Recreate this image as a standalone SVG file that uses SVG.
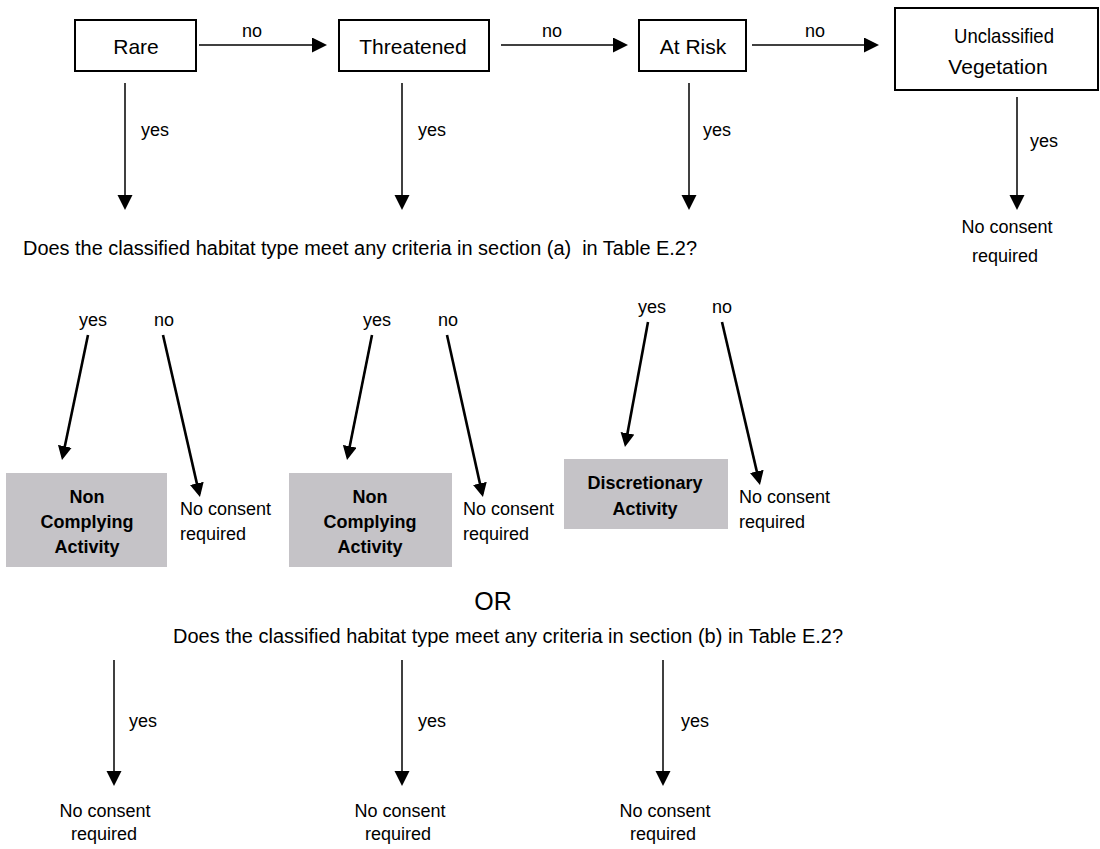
<svg xmlns="http://www.w3.org/2000/svg" width="1100" height="849" viewBox="0 0 1100 849">
<style>
  text { font-family: "Liberation Sans", Arial, sans-serif; fill: #000; }
  .box { fill: #fff; stroke: #000; stroke-width: 2; }
  .gbox { fill: #c5c3c7; stroke: none; }
  .t { font-size: 21px; }
  .q { font-size: 20px; white-space: pre; }
  .lbl { font-size: 18px; }
  .b { font-size: 18px; font-weight: bold; }
  .or { font-size: 25px; }
  .mid { text-anchor: middle; }
  .c1 { stroke: #000; stroke-width: 1.5; fill: none; marker-end: url(#ah); }
  .c2 { stroke: #000; stroke-width: 2.6; fill: none; marker-end: url(#ah2); }
</style>
<defs>
  <marker id="ah" markerUnits="userSpaceOnUse" markerWidth="16" markerHeight="16" refX="12" refY="7.5" orient="auto">
    <path d="M0,0 L15,7.5 L0,15 z" fill="#000"/>
  </marker>
  <marker id="ah2" markerUnits="userSpaceOnUse" markerWidth="16" markerHeight="16" refX="11" refY="7" orient="auto">
    <path d="M0,0 L14,7 L0,14 z" fill="#000"/>
  </marker>
</defs>
<rect width="1100" height="849" fill="#fff"/>

<g id="connectors">
  <line class="c1" x1="199" y1="45" x2="324" y2="45"/>
  <line class="c1" x1="501" y1="45" x2="625" y2="45"/>
  <line class="c1" x1="752" y1="45" x2="876" y2="45"/>
  <text class="lbl mid" x="252" y="37">no</text>
  <text class="lbl mid" x="552" y="37">no</text>
  <text class="lbl mid" x="815" y="37">no</text>

  <line class="c1" x1="125" y1="83" x2="125" y2="207"/>
  <line class="c1" x1="402" y1="83" x2="402" y2="207"/>
  <line class="c1" x1="689" y1="83" x2="689" y2="207"/>
  <line class="c1" x1="1017" y1="97" x2="1017" y2="207"/>
  <text class="lbl" x="141" y="136">yes</text>
  <text class="lbl" x="418" y="136">yes</text>
  <text class="lbl" x="703" y="136">yes</text>
  <text class="lbl" x="1030" y="147">yes</text>

  <line class="c2" x1="88" y1="335" x2="62.6" y2="457.1"/>
  <line class="c2" x1="163" y1="335" x2="199.3" y2="494.1"/>
  <line class="c2" x1="372" y1="335" x2="347.6" y2="457.1"/>
  <line class="c2" x1="447" y1="335" x2="482.3" y2="494.1"/>
  <line class="c2" x1="648" y1="322" x2="625.5" y2="444.1"/>
  <line class="c2" x1="722" y1="322" x2="759.3" y2="482.1"/>
  <text class="lbl mid" x="93" y="326">yes</text>
  <text class="lbl mid" x="164" y="326">no</text>
  <text class="lbl mid" x="377" y="326">yes</text>
  <text class="lbl mid" x="448" y="326">no</text>
  <text class="lbl mid" x="652" y="313">yes</text>
  <text class="lbl mid" x="722" y="313">no</text>

  <line class="c1" x1="114" y1="660" x2="114" y2="783"/>
  <line class="c1" x1="402" y1="660" x2="402" y2="783"/>
  <line class="c1" x1="663" y1="660" x2="663" y2="783"/>
  <text class="lbl" x="129" y="727">yes</text>
  <text class="lbl" x="418" y="727">yes</text>
  <text class="lbl" x="681" y="727">yes</text>
</g>

<g id="n-rare">
  <rect class="box" x="75" y="20" width="121" height="51"/>
  <text class="t mid" x="136" y="54">Rare</text>
</g>
<g id="n-threatened">
  <rect class="box" x="339" y="20" width="150" height="51"/>
  <text class="t mid" x="413" y="54">Threatened</text>
</g>
<g id="n-atrisk">
  <rect class="box" x="639" y="20" width="107" height="51"/>
  <text class="t mid" x="693" y="54">At Risk</text>
</g>
<g id="n-unclassified">
  <rect class="box" x="895" y="8" width="203" height="82"/>
  <text class="t mid" x="1004" y="43" textLength="100" lengthAdjust="spacingAndGlyphs">Unclassified</text>
  <text class="t mid" x="998" y="74">Vegetation</text>
</g>
<g id="n-noconsent-uv">
  <text class="lbl mid" x="1007" y="233">No consent</text>
  <text class="lbl mid" x="1005" y="262">required</text>
</g>

<g id="n-question-a">
  <text class="q" x="23" y="255" textLength="674" lengthAdjust="spacingAndGlyphs">Does the classified habitat type meet any criteria in section (a)  in Table E.2?</text>
</g>

<g id="n-noncomplying-1">
  <rect class="gbox" x="6" y="473" width="161" height="94"/>
  <text class="b mid" x="87" y="503">Non</text>
  <text class="b mid" x="87" y="528">Complying</text>
  <text class="b mid" x="87" y="553">Activity</text>
</g>
<g id="n-noconsent-1">
  <text class="lbl" x="180" y="515">No consent</text>
  <text class="lbl" x="180" y="540">required</text>
</g>
<g id="n-noncomplying-2">
  <rect class="gbox" x="289" y="473" width="163" height="94"/>
  <text class="b mid" x="370" y="503">Non</text>
  <text class="b mid" x="370" y="528">Complying</text>
  <text class="b mid" x="370" y="553">Activity</text>
</g>
<g id="n-noconsent-2">
  <text class="lbl" x="463" y="515">No consent</text>
  <text class="lbl" x="463" y="540">required</text>
</g>
<g id="n-discretionary">
  <rect class="gbox" x="564" y="459" width="164" height="70"/>
  <text class="b mid" x="645" y="489">Discretionary</text>
  <text class="b mid" x="645" y="515">Activity</text>
</g>
<g id="n-noconsent-3">
  <text class="lbl" x="739" y="503">No consent</text>
  <text class="lbl" x="739" y="528">required</text>
</g>

<g id="n-or">
  <text class="or mid" x="493" y="610">OR</text>
</g>
<g id="n-question-b">
  <text class="q" x="173" y="643" textLength="670" lengthAdjust="spacingAndGlyphs">Does the classified habitat type meet any criteria in section (b) in Table E.2?</text>
</g>

<g id="n-noconsent-b1">
  <text class="lbl mid" x="105" y="817">No consent</text>
  <text class="lbl mid" x="104" y="840">required</text>
</g>
<g id="n-noconsent-b2">
  <text class="lbl mid" x="400" y="817">No consent</text>
  <text class="lbl mid" x="398" y="840">required</text>
</g>
<g id="n-noconsent-b3">
  <text class="lbl mid" x="665" y="817">No consent</text>
  <text class="lbl mid" x="663" y="840">required</text>
</g>
</svg>
